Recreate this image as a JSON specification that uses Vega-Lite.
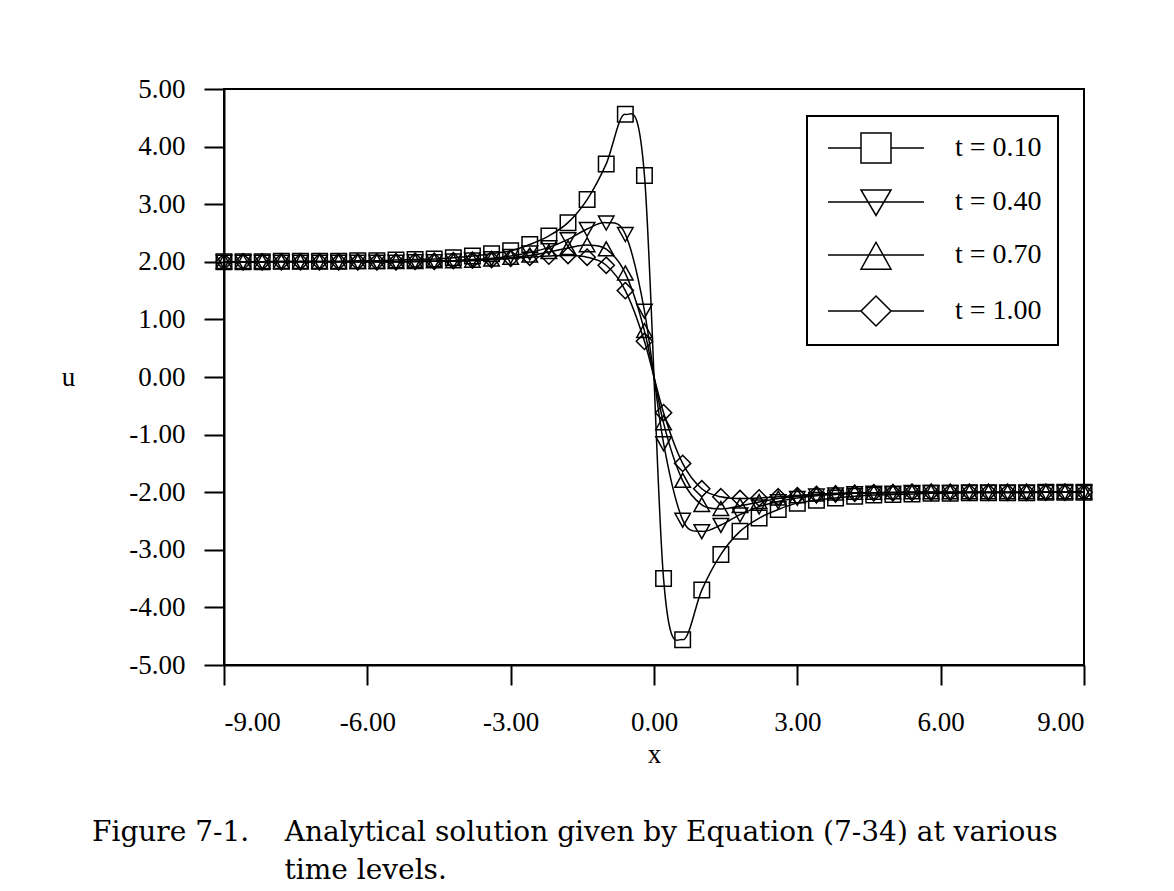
{
  "$schema": "https://vega.github.io/schema/vega-lite/v6.json",
  "width": 860,
  "height": 576,
  "autosize": {"type": "none"},
  "padding": {"left": 224, "top": 89, "right": 90, "bottom": 226},
  "background": "white",
  "title": {
    "text": ["Figure 7-1.\u00a0\u00a0\u00a0\u00a0Analytical solution given by Equation (7-34) at various", "\u200b\u00a0\u00a0\u00a0\u00a0\u00a0\u00a0\u00a0\u00a0\u00a0\u00a0\u00a0\u00a0\u00a0\u00a0\u00a0\u00a0\u00a0\u00a0\u00a0\u00a0\u00a0\u2009time levels."],
    "orient": "bottom",
    "anchor": "start",
    "frame": "group",
    "dx": -132,
    "offset": 52,
    "font": "DejaVu Serif",
    "fontSize": 28,
    "fontWeight": "normal",
    "color": "black",
    "lineHeight": 38
  },
  "data": {
    "values": [
      {"x": -9, "u": 2.0, "t": "t = 0.10"}, {"x": -8.6, "u": 2.0, "t": "t = 0.10"}, {"x": -8.2, "u": 2.0, "t": "t = 0.10"}, {"x": -7.8, "u": 2.01, "t": "t = 0.10"}, {"x": -7.4, "u": 2.01, "t": "t = 0.10"}, {"x": -7, "u": 2.01, "t": "t = 0.10"}, {"x": -6.6, "u": 2.01, "t": "t = 0.10"}, {"x": -6.2, "u": 2.02, "t": "t = 0.10"}, {"x": -5.8, "u": 2.02, "t": "t = 0.10"}, {"x": -5.4, "u": 2.03, "t": "t = 0.10"}, {"x": -5, "u": 2.04, "t": "t = 0.10"}, {"x": -4.6, "u": 2.05, "t": "t = 0.10"}, {"x": -4.2, "u": 2.07, "t": "t = 0.10"}, {"x": -3.8, "u": 2.1, "t": "t = 0.10"}, {"x": -3.4, "u": 2.14, "t": "t = 0.10"}, {"x": -3, "u": 2.19, "t": "t = 0.10"}, {"x": -2.6, "u": 2.3, "t": "t = 0.10"}, {"x": -2.2, "u": 2.45, "t": "t = 0.10"}, {"x": -1.8, "u": 2.68, "t": "t = 0.10"}, {"x": -1.4, "u": 3.08, "t": "t = 0.10"}, {"x": -1, "u": 3.7, "t": "t = 0.10"}, {"x": -0.6, "u": 4.56, "t": "t = 0.10"}, {"x": -0.2, "u": 3.5, "t": "t = 0.10"},
      {"x": 0.2, "u": -3.5, "t": "t = 0.10"}, {"x": 0.6, "u": -4.56, "t": "t = 0.10"}, {"x": 1, "u": -3.7, "t": "t = 0.10"}, {"x": 1.4, "u": -3.08, "t": "t = 0.10"}, {"x": 1.8, "u": -2.68, "t": "t = 0.10"}, {"x": 2.2, "u": -2.45, "t": "t = 0.10"}, {"x": 2.6, "u": -2.3, "t": "t = 0.10"}, {"x": 3, "u": -2.19, "t": "t = 0.10"}, {"x": 3.4, "u": -2.14, "t": "t = 0.10"}, {"x": 3.8, "u": -2.1, "t": "t = 0.10"}, {"x": 4.2, "u": -2.07, "t": "t = 0.10"}, {"x": 4.6, "u": -2.05, "t": "t = 0.10"}, {"x": 5, "u": -2.04, "t": "t = 0.10"}, {"x": 5.4, "u": -2.03, "t": "t = 0.10"}, {"x": 5.8, "u": -2.02, "t": "t = 0.10"}, {"x": 6.2, "u": -2.02, "t": "t = 0.10"}, {"x": 6.6, "u": -2.01, "t": "t = 0.10"}, {"x": 7, "u": -2.01, "t": "t = 0.10"}, {"x": 7.4, "u": -2.01, "t": "t = 0.10"}, {"x": 7.8, "u": -2.01, "t": "t = 0.10"}, {"x": 8.2, "u": -2.0, "t": "t = 0.10"}, {"x": 8.6, "u": -2.0, "t": "t = 0.10"}, {"x": 9, "u": -2.0, "t": "t = 0.10"},

      {"x": -9, "u": 2.0, "t": "t = 0.40"}, {"x": -8.6, "u": 2.0, "t": "t = 0.40"}, {"x": -8.2, "u": 2.0, "t": "t = 0.40"}, {"x": -7.8, "u": 2.0, "t": "t = 0.40"}, {"x": -7.4, "u": 2.0, "t": "t = 0.40"}, {"x": -7, "u": 2.0, "t": "t = 0.40"}, {"x": -6.6, "u": 2.0, "t": "t = 0.40"}, {"x": -6.2, "u": 2.0, "t": "t = 0.40"}, {"x": -5.8, "u": 2.0, "t": "t = 0.40"}, {"x": -5.4, "u": 2.0, "t": "t = 0.40"}, {"x": -5, "u": 2.01, "t": "t = 0.40"}, {"x": -4.6, "u": 2.01, "t": "t = 0.40"}, {"x": -4.2, "u": 2.02, "t": "t = 0.40"}, {"x": -3.8, "u": 2.04, "t": "t = 0.40"}, {"x": -3.4, "u": 2.06, "t": "t = 0.40"}, {"x": -3, "u": 2.1, "t": "t = 0.40"}, {"x": -2.6, "u": 2.16, "t": "t = 0.40"}, {"x": -2.2, "u": 2.25, "t": "t = 0.40"}, {"x": -1.8, "u": 2.39, "t": "t = 0.40"}, {"x": -1.4, "u": 2.57, "t": "t = 0.40"}, {"x": -1, "u": 2.68, "t": "t = 0.40"}, {"x": -0.6, "u": 2.48, "t": "t = 0.40"}, {"x": -0.2, "u": 1.15, "t": "t = 0.40"},
      {"x": 0.2, "u": -1.15, "t": "t = 0.40"}, {"x": 0.6, "u": -2.48, "t": "t = 0.40"}, {"x": 1, "u": -2.68, "t": "t = 0.40"}, {"x": 1.4, "u": -2.57, "t": "t = 0.40"}, {"x": 1.8, "u": -2.39, "t": "t = 0.40"}, {"x": 2.2, "u": -2.25, "t": "t = 0.40"}, {"x": 2.6, "u": -2.16, "t": "t = 0.40"}, {"x": 3, "u": -2.1, "t": "t = 0.40"}, {"x": 3.4, "u": -2.06, "t": "t = 0.40"}, {"x": 3.8, "u": -2.04, "t": "t = 0.40"}, {"x": 4.2, "u": -2.02, "t": "t = 0.40"}, {"x": 4.6, "u": -2.01, "t": "t = 0.40"}, {"x": 5, "u": -2.01, "t": "t = 0.40"}, {"x": 5.4, "u": -2.0, "t": "t = 0.40"}, {"x": 5.8, "u": -2.0, "t": "t = 0.40"}, {"x": 6.2, "u": -2.0, "t": "t = 0.40"}, {"x": 6.6, "u": -2.0, "t": "t = 0.40"}, {"x": 7, "u": -2.0, "t": "t = 0.40"}, {"x": 7.4, "u": -2.0, "t": "t = 0.40"}, {"x": 7.8, "u": -2.0, "t": "t = 0.40"}, {"x": 8.2, "u": -2.0, "t": "t = 0.40"}, {"x": 8.6, "u": -2.0, "t": "t = 0.40"}, {"x": 9, "u": -2.0, "t": "t = 0.40"},

      {"x": -9, "u": 2.0, "t": "t = 0.70"}, {"x": -8.6, "u": 2.0, "t": "t = 0.70"}, {"x": -8.2, "u": 2.0, "t": "t = 0.70"}, {"x": -7.8, "u": 2.0, "t": "t = 0.70"}, {"x": -7.4, "u": 2.0, "t": "t = 0.70"}, {"x": -7, "u": 2.0, "t": "t = 0.70"}, {"x": -6.6, "u": 2.0, "t": "t = 0.70"}, {"x": -6.2, "u": 2.0, "t": "t = 0.70"}, {"x": -5.8, "u": 2.0, "t": "t = 0.70"}, {"x": -5.4, "u": 2.0, "t": "t = 0.70"}, {"x": -5, "u": 2.0, "t": "t = 0.70"}, {"x": -4.6, "u": 2.01, "t": "t = 0.70"}, {"x": -4.2, "u": 2.01, "t": "t = 0.70"}, {"x": -3.8, "u": 2.02, "t": "t = 0.70"}, {"x": -3.4, "u": 2.04, "t": "t = 0.70"}, {"x": -3, "u": 2.07, "t": "t = 0.70"}, {"x": -2.6, "u": 2.11, "t": "t = 0.70"}, {"x": -2.2, "u": 2.17, "t": "t = 0.70"}, {"x": -1.8, "u": 2.24, "t": "t = 0.70"}, {"x": -1.4, "u": 2.29, "t": "t = 0.70"}, {"x": -1, "u": 2.22, "t": "t = 0.70"}, {"x": -0.6, "u": 1.8, "t": "t = 0.70"}, {"x": -0.2, "u": 0.8, "t": "t = 0.70"},
      {"x": 0.2, "u": -0.8, "t": "t = 0.70"}, {"x": 0.6, "u": -1.8, "t": "t = 0.70"}, {"x": 1, "u": -2.22, "t": "t = 0.70"}, {"x": 1.4, "u": -2.29, "t": "t = 0.70"}, {"x": 1.8, "u": -2.24, "t": "t = 0.70"}, {"x": 2.2, "u": -2.17, "t": "t = 0.70"}, {"x": 2.6, "u": -2.11, "t": "t = 0.70"}, {"x": 3, "u": -2.07, "t": "t = 0.70"}, {"x": 3.4, "u": -2.04, "t": "t = 0.70"}, {"x": 3.8, "u": -2.02, "t": "t = 0.70"}, {"x": 4.2, "u": -2.01, "t": "t = 0.70"}, {"x": 4.6, "u": -2.01, "t": "t = 0.70"}, {"x": 5, "u": -2.0, "t": "t = 0.70"}, {"x": 5.4, "u": -2.0, "t": "t = 0.70"}, {"x": 5.8, "u": -2.0, "t": "t = 0.70"}, {"x": 6.2, "u": -2.0, "t": "t = 0.70"}, {"x": 6.6, "u": -2.0, "t": "t = 0.70"}, {"x": 7, "u": -2.0, "t": "t = 0.70"}, {"x": 7.4, "u": -2.0, "t": "t = 0.70"}, {"x": 7.8, "u": -2.0, "t": "t = 0.70"}, {"x": 8.2, "u": -2.0, "t": "t = 0.70"}, {"x": 8.6, "u": -2.0, "t": "t = 0.70"}, {"x": 9, "u": -2.0, "t": "t = 0.70"},

      {"x": -9, "u": 2.0, "t": "t = 1.00"}, {"x": -8.6, "u": 2.0, "t": "t = 1.00"}, {"x": -8.2, "u": 2.0, "t": "t = 1.00"}, {"x": -7.8, "u": 2.0, "t": "t = 1.00"}, {"x": -7.4, "u": 2.0, "t": "t = 1.00"}, {"x": -7, "u": 2.0, "t": "t = 1.00"}, {"x": -6.6, "u": 2.0, "t": "t = 1.00"}, {"x": -6.2, "u": 2.0, "t": "t = 1.00"}, {"x": -5.8, "u": 2.0, "t": "t = 1.00"}, {"x": -5.4, "u": 2.0, "t": "t = 1.00"}, {"x": -5, "u": 2.01, "t": "t = 1.00"}, {"x": -4.6, "u": 2.01, "t": "t = 1.00"}, {"x": -4.2, "u": 2.02, "t": "t = 1.00"}, {"x": -3.8, "u": 2.03, "t": "t = 1.00"}, {"x": -3.4, "u": 2.04, "t": "t = 1.00"}, {"x": -3, "u": 2.06, "t": "t = 1.00"}, {"x": -2.6, "u": 2.08, "t": "t = 1.00"}, {"x": -2.2, "u": 2.1, "t": "t = 1.00"}, {"x": -1.8, "u": 2.11, "t": "t = 1.00"}, {"x": -1.4, "u": 2.08, "t": "t = 1.00"}, {"x": -1, "u": 1.94, "t": "t = 1.00"}, {"x": -0.6, "u": 1.5, "t": "t = 1.00"}, {"x": -0.2, "u": 0.62, "t": "t = 1.00"},
      {"x": 0.2, "u": -0.62, "t": "t = 1.00"}, {"x": 0.6, "u": -1.5, "t": "t = 1.00"}, {"x": 1, "u": -1.94, "t": "t = 1.00"}, {"x": 1.4, "u": -2.08, "t": "t = 1.00"}, {"x": 1.8, "u": -2.11, "t": "t = 1.00"}, {"x": 2.2, "u": -2.1, "t": "t = 1.00"}, {"x": 2.6, "u": -2.08, "t": "t = 1.00"}, {"x": 3, "u": -2.06, "t": "t = 1.00"}, {"x": 3.4, "u": -2.04, "t": "t = 1.00"}, {"x": 3.8, "u": -2.03, "t": "t = 1.00"}, {"x": 4.2, "u": -2.02, "t": "t = 1.00"}, {"x": 4.6, "u": -2.01, "t": "t = 1.00"}, {"x": 5, "u": -2.01, "t": "t = 1.00"}, {"x": 5.4, "u": -2.0, "t": "t = 1.00"}, {"x": 5.8, "u": -2.0, "t": "t = 1.00"}, {"x": 6.2, "u": -2.0, "t": "t = 1.00"}, {"x": 6.6, "u": -2.0, "t": "t = 1.00"}, {"x": 7, "u": -2.0, "t": "t = 1.00"}, {"x": 7.4, "u": -2.0, "t": "t = 1.00"}, {"x": 7.8, "u": -2.0, "t": "t = 1.00"}, {"x": 8.2, "u": -2.0, "t": "t = 1.00"}, {"x": 8.6, "u": -2.0, "t": "t = 1.00"}, {"x": 9, "u": -2.0, "t": "t = 1.00"}
    ]
  },
  "encoding": {
    "x": {
      "field": "x",
      "type": "quantitative",
      "scale": {"domain": [-9, 9], "nice": false, "zero": false},
      "axis": {
        "values": [-9, -6, -3, 0, 3, 6, 9],
        "title": "x",
        "labelExpr": "replace(format(datum.value, '.2f'), '\u2212', '-')",
        "labelPadding": 24,
        "titlePadding": 6
      }
    },
    "y": {
      "field": "u",
      "type": "quantitative",
      "scale": {"domain": [-5, 5], "nice": false, "zero": false},
      "axis": {
        "values": [-5, -4, -3, -2, -1, 0, 1, 2, 3, 4, 5],
        "title": "u",
        "labelExpr": "replace(format(datum.value, '.2f'), '\u2212', '-')",
        "labelPadding": 19,
        "titleAngle": 0,
        "titleX": -156,
        "titleY": 288,
        "titleAlign": "center",
        "titleBaseline": "middle"
      }
    }
  },
  "layer": [
    {
      "mark": {"type": "line", "color": "black", "strokeWidth": 1.5, "interpolate": "cardinal"},
      "encoding": {"detail": {"field": "t", "type": "nominal"}}
    },
    {
      "mark": {"type": "point", "filled": false, "color": "black", "strokeWidth": 1.5, "size": 240, "opacity": 1},
      "encoding": {
        "shape": {
          "field": "t",
          "type": "nominal",
          "scale": {
            "domain": ["t = 0.10", "t = 0.40", "t = 0.70", "t = 1.00"],
            "range": ["M-1,-1H1V1H-1Z", "M-1,-0.85H1L0,0.95Z", "M0,-0.95L1,0.85H-1Z", "M0,-1.05L1.05,0L0,1.05L-1.05,0Z"]
          },
          "legend": null
        }
      }
    },
    {
      "transform": [{"filter": "datum.x > 100"}],
      "mark": {"type": "point", "filled": false, "color": "black", "strokeWidth": 1.5, "opacity": 1},
      "encoding": {
        "shape": {
          "field": "t",
          "type": "nominal",
          "scale": {
            "domain": ["t = 0.10", "t = 0.40", "t = 0.70", "t = 1.00"],
            "range": ["M-3.2,0H-1M1,0H3.2M-1,-1H1V1H-1Z", "M-3.2,0H3.2M-1,-0.8H1L0,0.9Z", "M-3.2,0H3.2M0,-0.85L1,0.95H-1Z", "M-3.2,0H-1M1,0H3.2M0,-1L1,0L0,1L-1,0Z"]
          },
          "legend": {
            "title": null,
            "orient": "none",
            "legendX": 583,
            "legendY": 27,
            "symbolSize": 900,
            "symbolStrokeWidth": 1.5,
            "symbolStrokeColor": "black",
            "symbolFillColor": "transparent",
            "symbolOffset": 37,
            "labelOffset": 63,
            "rowPadding": 20,
            "padding": 16,
            "strokeColor": "black",
            "fillColor": "white",
            "labelFont": "Liberation Serif",
            "labelFontSize": 28,
            "labelColor": "black",
            "encoding": {
              "legend": {"strokeWidth": {"value": 2}}
            }
          }
        }
      }
    }
  ],
  "resolve": {"scale": {"shape": "independent"}},
  "config": {
    "view": {"stroke": "black", "strokeWidth": 2},
    "axis": {
      "grid": false,
      "domainColor": "black",
      "domainWidth": 2,
      "tickColor": "black",
      "tickWidth": 2,
      "tickSize": 20,
      "labelFont": "Liberation Serif",
      "labelFontSize": 27,
      "labelColor": "black",
      "titleFont": "Liberation Serif",
      "titleFontSize": 27,
      "titleFontWeight": "normal",
      "titleColor": "black"
    }
  }
}
